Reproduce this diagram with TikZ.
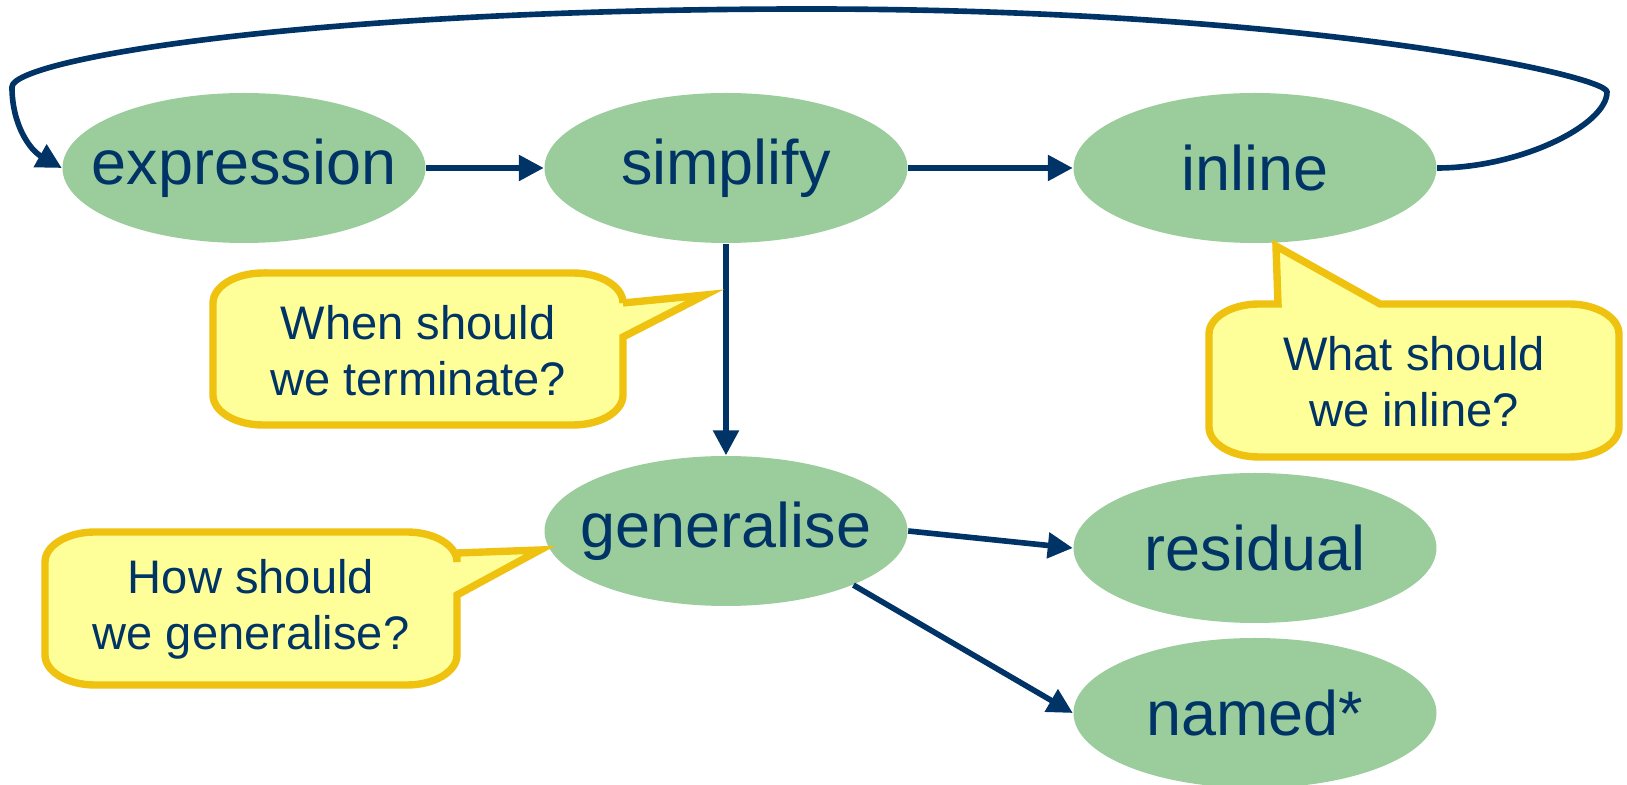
\documentclass[tikz,border=0pt]{standalone}
\usepackage{fontspec}
\setmainfont{Liberation Sans}
\usepackage{tikz}
\usetikzlibrary{arrows.meta,positioning,calc,shapes}
\definecolor{mNavy}{RGB}{0,51,102}
\definecolor{mGreen}{RGB}{155,204,155}
\definecolor{mNote}{RGB}{255,255,153}
\definecolor{mGold}{RGB}{238,194,14}

\tikzset{
  stage/.style={ellipse, fill=mGreen, minimum width=3.63cm, minimum height=1.5cm,
    inner xsep=-0.6cm, inner ysep=0pt, text=mNavy, font=\fontsize{17.9}{20}\selectfont},
  flow/.style={mNavy, line width=1.6pt, -{Triangle[length=2.5mm,width=2.5mm]}},
  note/.style={fill=mNote, draw=mGold, line width=2.1pt},
  notetext/.style={text=mNavy, align=center, font=\fontsize{13.4}{16}\selectfont},
}

\begin{document}
\begin{tikzpicture}
    \useasboundingbox (0,0) rectangle (16.27,7.85);

    % The stages
    \node[stage] (expression) at (2.44,6.17) {expression};
    \node[stage] (simplify) at (7.26,6.17) {simplify};
    \node[stage] (inline) at (12.55,6.17) {inline};
    \node[stage] (generalise) at (7.26,2.54) {generalise};
    \node[stage] (residual) at (12.55,2.37) {residual};
    \node[stage] (named) at (12.55,0.72) {named*};

    % The flow between them
    \draw[flow] (expression) -- (simplify);
    \draw[flow] (simplify) -- (inline);
    \draw[flow] (simplify) -- (generalise);
    \draw[flow] (generalise.east) -- (residual.west);
    \draw[flow] (generalise.-23) -- (named.west);
    \draw[flow] (inline.east) .. controls (15.2,6.17) and (16.07,6.6) .. (16.07,6.93)
      .. controls (16.07,7.1) and (13,7.76) .. (8.09,7.76)
      .. controls (3,7.76) and (0.12,7.25) .. (0.12,6.98)
      .. controls (0.12,6.6) and (0.3,6.35) .. (expression.west);

    % Callout: terminate
    \draw[note] (2.63,5.12) -- (5.73,5.12) arc[start angle=90, end angle=0, x radius=0.5, y radius=0.3]
      -- (6.23,4.82) -- (7.05,4.9) -- (6.23,4.48) -- (6.23,3.9)
      arc[start angle=0, end angle=-90, x radius=0.5, y radius=0.3] -- (2.63,3.6)
      arc[start angle=270, end angle=180, x radius=0.5, y radius=0.3] -- (2.13,4.82)
      arc[start angle=180, end angle=90, x radius=0.5, y radius=0.3] -- cycle;
    \node[notetext] (qterm) at (4.18,4.34) {When should\\we terminate?};

    % Callout: inline
    \draw[note] (12.59,4.81) -- (12.78,4.81) -- (12.76,5.39) -- (13.8,4.81) -- (15.69,4.81)
      arc[start angle=90, end angle=0, x radius=0.5, y radius=0.3] -- (16.19,3.58)
      arc[start angle=0, end angle=-90, x radius=0.5, y radius=0.3] -- (12.59,3.28)
      arc[start angle=270, end angle=180, x radius=0.5, y radius=0.3] -- (12.09,4.51)
      arc[start angle=180, end angle=90, x radius=0.5, y radius=0.3] -- cycle;
    \node[notetext] (qinline) at (14.14,4.03) {What should\\we inline?};

    % Callout: generalise
    \draw[note] (0.95,2.53) -- (4.07,2.53) arc[start angle=90, end angle=0, x radius=0.5, y radius=0.3]
      -- (4.57,2.32) -- (5.4,2.35) -- (4.57,1.9) -- (4.57,1.3)
      arc[start angle=0, end angle=-90, x radius=0.5, y radius=0.3] -- (0.95,1.0)
      arc[start angle=270, end angle=180, x radius=0.5, y radius=0.3] -- (0.45,2.23)
      arc[start angle=180, end angle=90, x radius=0.5, y radius=0.3] -- cycle;
    \node[notetext] (qgen) at (2.51,1.76) {How should\\we generalise?};
\end{tikzpicture}
\end{document}
